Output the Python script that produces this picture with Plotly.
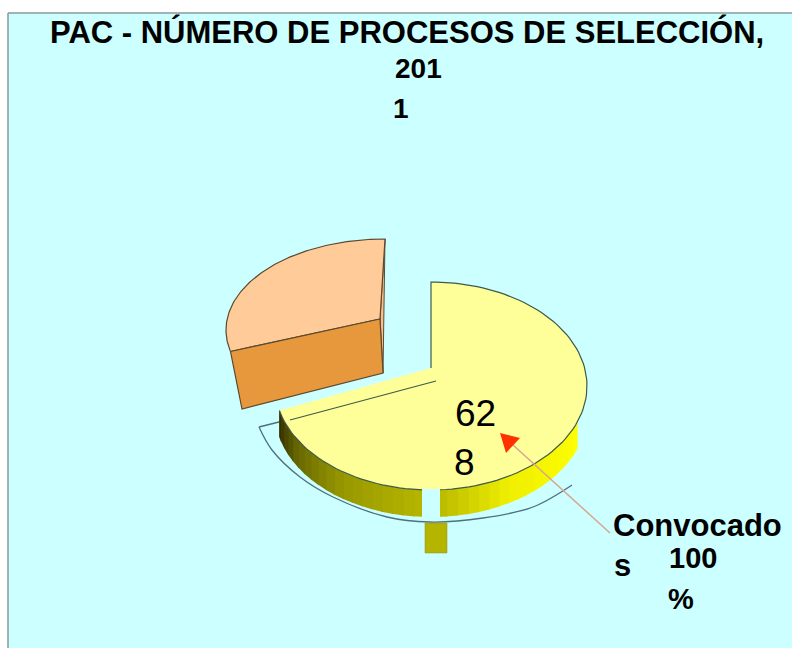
import numpy as np
import plotly.graph_objects as go

# ---- data ----
categories = ["Convocados", "Otros"]
values = [628, 254]
title_lines = ["PAC - NÚMERO DE PROCESOS DE SELECCIÓN,", "201", "1"]
value_label = ["62", "8"]
callout_label = ["Convocado", "s", "100", "%"]

# ---- pie projection (style constants) ----
BG = "#CCFFFF"
EDGE = "#3F5A4A"
Y_C = (431, 386, 156, 104)   # yellow ellipse: cx, cy, rx, ry
O_C = (385, 330, 159, 91)    # exploded orange ellipse
Y_APEX = (431, 368)
O_APEX = (380, 319)
DEPTH = 27
split = 360 * values[0] / sum(values)


def arc(ell, a0, a1, n=120):
    t = np.radians(np.linspace(a0, a1, n))
    return ell[0] + ell[2] * np.sin(t), ell[1] - ell[3] * np.cos(t)


fig = go.Figure()


def poly(x, y, fill=None, line=None, width=1):
    fig.add_trace(go.Scatter(
        x=list(x), y=list(y), mode="lines",
        fill="toself" if fill else "none", fillcolor=fill,
        line=dict(color=line or "rgba(0,0,0,0)", width=width if line else 0),
        hoverinfo="skip", showlegend=False))


# background panel
fig.add_shape(type="rect", x0=8, x1=792, y0=13, y1=648, layer="below",
              fillcolor=BG, line=dict(width=0))
fig.add_shape(type="line", x0=8, x1=792, y0=13, y1=13, layer="below",
              line=dict(color="#8A9A9A", width=1.5))
fig.add_shape(type="line", x0=8, x1=8, y0=13, y1=648, layer="below",
              line=dict(color="#8A9A9A", width=1.5))

# annotation arc under the pie
tick_x = [283, 259]
tick_y = [421, 427]
arc_x = [259, 272, 300, 333, 387, 430, 483, 533, 572]
arc_y = [427, 450, 477, 497, 517, 522, 518, 507, 485]
for xs_, ys_ in ((tick_x, tick_y), (arc_x, arc_y)):
    fig.add_trace(go.Scatter(x=xs_, y=ys_, mode="lines",
                             line=dict(color="#4F6F7F", width=1.3, shape="spline", smoothing=1.0),
                             hoverinfo="skip", showlegend=False))

# yellow side wall: gradient bands
stops_a = [110, 150, 175, 215, 240, split]
stops_rgb = [(255, 255, 0), (240, 240, 0), (190, 190, 0), (150, 150, 0), (100, 100, 0), (50, 45, 0)]
edges = np.arange(110, split + 0.1, 4.0)
edges = np.append(edges, split) if edges[-1] < split else edges
for a0, a1 in zip(edges[:-1], edges[1:]):
    mid = (a0 + a1) / 2
    rgb = [int(np.interp(mid, stops_a, [c[i] for c in stops_rgb])) for i in range(3)]
    xs, ys = arc(Y_C, a0, a1 + 0.5, 6)
    poly(np.r_[xs, xs[::-1]], np.r_[ys, ys[::-1] + DEPTH], fill=f"rgb({rgb[0]},{rgb[1]},{rgb[2]})")

# slit in the wall and detached tab below
fig.add_shape(type="rect", x0=422, x1=440, y0=489, y1=519, fillcolor=BG, line=dict(width=0), layer="above")
fig.add_shape(type="rect", x0=425, x1=447, y0=523, y1=553, fillcolor="#B5B500",
              line=dict(color="#8F8F20", width=0.5), layer="above")

# yellow top
ax, ay = arc(Y_C, 0, split)
poly(np.r_[Y_APEX[0], ax, Y_APEX[0]], np.r_[Y_APEX[1], ay, Y_APEX[1]], fill="#FFFF99")
poly(np.r_[Y_APEX[0], ax], np.r_[Y_APEX[1], ay], line=EDGE, width=1.2)
fig.add_trace(go.Scatter(x=[436, 290], y=[381, 420], mode="lines",
                         line=dict(color=EDGE, width=1.2), hoverinfo="skip", showlegend=False))

# orange wedge
ox, oy = arc(O_C, split, 360)
front_x = [ox[0], O_APEX[0], 383, 242, ox[0]]
front_y = [oy[0], O_APEX[1], 373, 409, oy[0]]
poly([O_APEX[0], ox[-1], 383, O_APEX[0]], [O_APEX[1], oy[-1], 373, O_APEX[1]],
     fill="#F9BE8A", line="#5A4A30", width=1)
poly(np.r_[O_APEX[0], ox, O_APEX[0]], np.r_[O_APEX[1], oy, O_APEX[1]],
     fill="#FFCC99", line="#5A4A30", width=1.2)
poly(front_x, front_y, fill="#E8983C", line="#5A4A30", width=1.2)

# callout arrow
fig.add_trace(go.Scatter(x=[513, 610], y=[445, 533], mode="lines",
                         line=dict(color="#D9A58F", width=1.5), hoverinfo="skip", showlegend=False))
poly([500, 520, 506, 500], [433, 438, 453, 433], fill="#FF3300")


def label(x, y, s, size, bold=True):
    fig.add_annotation(x=x, y=y, text=f"<b>{s}</b>" if bold else s, showarrow=False,
                       font=dict(family="Liberation Sans", size=size, color="#000000"),
                       xanchor="center", yanchor="middle")


label(407, 32, title_lines[0], 31)
label(418, 68, title_lines[1], 28)
label(401, 108, title_lines[2], 28)
label(475, 413, value_label[0], 37, bold=False)
label(464, 462, value_label[1], 37, bold=False)
label(697, 525, callout_label[0], 31)
label(622, 565, callout_label[1], 31)
label(693, 558, callout_label[2], 29)
label(681, 599, callout_label[3], 29)

fig.update_layout(
    width=792, height=648, margin=dict(l=0, r=0, t=0, b=0),
    paper_bgcolor="white", plot_bgcolor="rgba(0,0,0,0)", showlegend=False,
    xaxis=dict(range=[0, 792], visible=False, fixedrange=True),
    yaxis=dict(range=[648, 0], visible=False, fixedrange=True),
)
fig.write_html("out.html", config={"displayModeBar": False},
               post_script="document.body.style.margin='0';document.body.style.overflow='hidden';")
